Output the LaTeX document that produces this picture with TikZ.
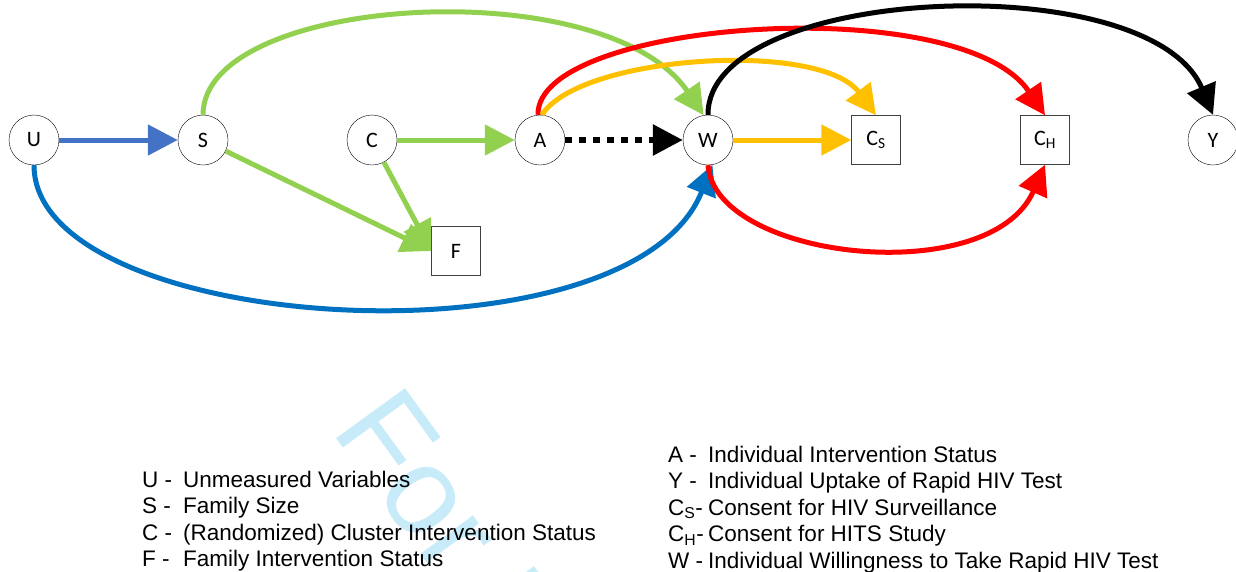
\documentclass[tikz,border=0pt]{standalone}
\usepackage{fontspec}
\setmainfont{Liberation Sans}
\newfontfamily\nodefont{Carlito}
\usetikzlibrary{arrows.meta}

\definecolor{usblue}{RGB}{68,114,196}
\definecolor{uwblue}{RGB}{0,112,192}
\definecolor{grn}{RGB}{146,208,80}
\definecolor{orng}{RGB}{255,192,0}
\definecolor{wmark}{RGB}{200,235,250}

\begin{document}
\begin{tikzpicture}[x=1pt, y=-1pt,
    var/.style={circle, draw, thin, fill=white, minimum size=50pt, inner sep=0pt,
                font=\nodefont\fontsize{22}{22}\selectfont},
    obs/.style={rectangle, draw=black!75, thin, fill=white, minimum size=49pt, inner sep=0pt,
                font=\nodefont\fontsize{22}{22}\selectfont},
    edge/.style={line width=5pt, -{Triangle[length=30pt,width=30pt]}},
    dotedge/.style={line width=6pt, dash pattern=on 7pt off 7pt, -{Triangle[length=30pt,width=30pt]}},
    legend/.style={anchor=base west, inner sep=0pt, font=\fontsize{22.5}{26.5}\selectfont}]
    \useasboundingbox (0,0) rectangle (1236,571);

    % watermark
    \node [anchor=base west, rotate=-54, inner sep=0pt, text=wmark,
           font=\fontsize{124}{124}\selectfont] (wm) at (330,430) {For Peer Review};

    \node [var] (U) at (34,140)   {U};
    \node [var] (S) at (203,140)  {S};
    \node [var] (C) at (372,140)  {C};
    \node [var] (A) at (540,140)  {A};
    \node [var] (W) at (708,140)  {W};
    \node [obs] (Cs) at (876,140) {C\textsubscript{S}};
    \node [obs] (Ch) at (1045,140) {C\textsubscript{H}};
    \node [var] (Y) at (1213,140) {Y};
    \node [obs] (F) at (456,251)  {F};

    % Now draw the lines:
    \draw [edge, usblue] (U) -- (S);
    \draw [edge, grn] (C) -- (A);
    \draw [dotedge, black] (A) -- (W);
    \draw [edge, orng] (W) -- (Cs);
    \draw [edge, grn] (S) -- (F.west);
    \draw [edge, grn] (C) -- (F.west);
    \draw [edge, grn] (S.north) .. controls (203,-5) and (605,-30) .. (W.100);
    \draw [edge, red] ([xshift=-2pt]A.north) .. controls (536,20) and (960,-10) .. (Ch.north);
    \draw [edge, orng] ([xshift=2pt]A.north) .. controls (580,55) and (820,40) .. (Cs.north);
    \draw [edge, black] (W.north) .. controls (707,-15) and (1150,-35) .. (Y.north);
    \draw [edge, uwblue] (U.south) .. controls (34,335) and (630,372) .. (W.-80);
    \draw [edge, red] (W.south) .. controls (715,260) and (990,290) .. (Ch.south);

    % key
    \node [legend] (keyleft) at (142,487) {\begin{tabular}[t]{@{}p{41pt}@{}l@{}}
        U - & Unmeasured Variables\\
        S - & Family Size\\
        C - & (Randomized) Cluster Intervention Status\\
        F - & Family Intervention Status
    \end{tabular}};
    \node [legend] (keyright) at (668,462) {\begin{tabular}[t]{@{}p{40pt}@{}l@{}}
        A - & Individual Intervention Status\\
        Y - & Individual Uptake of Rapid HIV Test\\
        C\textsubscript{S}- & Consent for HIV Surveillance\\
        C\textsubscript{H}- & Consent for HITS Study\\
        W - & Individual Willingness to Take Rapid HIV Test
    \end{tabular}};
\end{tikzpicture}
\end{document}
